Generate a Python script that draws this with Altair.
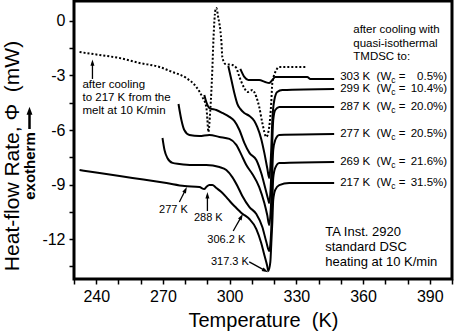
import altair as alt
import pandas as pd

# ---------------- data ----------------
# dotted curve: after cooling to 217 K from the melt at 10 K/min
T_dot = [232.5, 241.5, 250.5, 259.4, 268.4, 274.3, 280.5, 285.0, 287.7, 289.5,
         290.0, 290.4, 291.3, 292.2, 292.7, 293.6, 294.0, 294.9, 295.8, 296.3,
         296.7, 298.1, 301.2, 303.0, 304.4, 306.6, 308.0, 310.2, 312.0, 313.3,
         314.7, 316.5, 317.8, 318.7, 319.2, 321.0, 322.3, 334.5]
phi_dot = [-1.71, -1.87, -2.04, -2.31, -2.53, -2.81, -3.14, -3.63, -4.18, -4.73,
           -5.45, -6.11, -4.90, -2.70, -1.05, 0.61, 0.72, 0.17, -0.50, -1.16,
           -1.98, -2.37, -2.42, -2.59, -3.08, -3.69, -3.91, -3.80, -4.18, -4.73,
           -5.61, -6.38, -5.83, -4.51, -3.41, -2.70, -2.53, -2.53]

T_303 = [304.8, 306.6, 308.4, 313.3, 316.0, 317.8, 319.2, 320.5, 334.9, 336.3, 347.0]
phi_303 = [-2.64, -3.08, -3.25, -3.25, -3.36, -3.41, -3.25, -3.08, -3.08, -3.19, -3.19]

T_299 = [299.4, 300.8, 302.1, 303.5, 304.8, 306.6, 308.9, 311.1, 312.4, 314.2,
         315.6, 316.9, 317.8, 318.7, 319.2, 320.1, 321.4, 323.7, 347.0]
phi_299 = [-2.48, -3.25, -3.96, -4.57, -4.84, -5.06, -5.23, -5.50, -5.83, -6.49,
           -7.26, -8.09, -8.64, -7.10, -5.45, -4.35, -3.91, -3.80, -3.74]

T_287 = [288.6, 289.5, 290.9, 294.0, 296.7, 299.9, 302.1, 304.4, 306.6, 308.9,
         312.0, 314.2, 316.0, 317.4, 317.8, 318.7, 319.2, 319.6, 320.5, 322.3, 347.0]
phi_287 = [-4.07, -4.46, -4.79, -4.90, -5.06, -5.28, -5.50, -6.00, -6.71, -7.26,
           -7.65, -8.37, -9.19, -9.85, -10.02, -8.48, -6.55, -5.45, -4.90, -4.73, -4.73]

T_277 = [277.0, 278.3, 279.6, 281.9, 286.4, 290.9, 295.4, 299.9, 303.0, 305.3,
         307.5, 310.2, 313.3, 315.6, 316.9, 317.8, 318.7, 319.2, 319.6, 320.5, 322.3, 347.0]
phi_277 = [-4.57, -5.45, -6.00, -6.27, -6.33, -6.27, -6.38, -6.49, -6.82, -7.37,
           -7.93, -8.42, -9.14, -10.02, -10.68, -11.23, -9.85, -8.20, -7.10, -6.55, -6.27, -6.22]

T_269 = [269.8, 270.7, 272.0, 274.3, 277.4, 283.2, 289.5, 295.4, 298.5, 301.2,
         303.5, 305.7, 308.9, 312.0, 314.7, 316.5, 317.8, 318.7, 319.2, 319.6,
         320.5, 322.3, 347.0]
phi_269 = [-6.44, -7.10, -7.54, -7.81, -7.87, -7.93, -7.93, -8.04, -8.20, -8.59,
           -9.08, -9.63, -10.24, -10.62, -11.34, -12.16, -12.66, -11.50, -9.85, -8.64,
           -8.09, -7.82, -7.76]

T_217 = [232.5, 241.5, 256.3, 271.6, 279.7, 286.4, 288.6, 289.5, 290.9, 292.2,
         294.0, 296.3, 298.5, 300.8, 303.0, 304.4, 305.3, 306.6, 308.9, 312.0,
         314.2, 315.6, 316.9, 317.4, 318.3, 318.7, 319.2, 319.6, 320.5, 322.3,
         326.8, 347.0]
phi_217 = [-8.20, -8.37, -8.64, -8.92, -9.08, -9.14, -9.25, -9.14, -9.03, -9.03,
           -9.19, -9.41, -9.69, -10.02, -10.29, -10.46, -10.57, -10.68, -10.90, -11.45,
           -12.22, -12.88, -13.48, -13.76, -13.26, -12.33, -11.06, -9.85, -9.30, -9.03,
           -8.92, -8.92]

# right-hand labels of the quasi-isothermal curves
lab_temp = ["303 K", "299 K", "287 K", "277 K", "269 K", "217 K"]
lab_wc = ["0.5%)", "10.4%)", "20.0%)", "20.5%)", "21.6%)", "31.5%)"]
lab_phi = [-3.08, -3.77, -4.73, -6.22, -7.76, -8.92]
lab_T = 349.7

# annotation texts
note_lines = ["after cooling", "to 217 K from the", "melt at 10 K/min"]
note_phi = [-3.52, -4.24, -4.95]
note_T = 233.8

head_lines = ["after cooling with", "quasi-isothermal", "TMDSC to:"]
head_phi = [-0.50, -1.27, -1.98]
head_T = 355.6

ta_lines = ["TA Inst. 2920", "standard DSC", "heating at 10 K/min"]
ta_phi = [-11.61, -12.44, -13.26]
ta_T = 343.0

peak_text = ["277 K", "288 K", "306.2 K", "317.3 K"]
peak_T = [274.7, 290.4, 298.5, 300.1]
peak_phi = [-10.40, -10.84, -12.05, -13.26]

# arrows: start (T0, phi0) -> tip (T1, phi1), head angle (deg, clockwise from up)
arr_T0 = [238.3, 277.4, 290.0, 301.6, 308.8]
arr_p0 = [-3.19, -9.96, -10.46, -11.56, -13.26]
arr_T1 = [238.3, 280.1, 290.0, 305.2, 316.0]
arr_p1 = [-2.30, -9.30, -9.60, -10.78, -13.74]
arr_ang = [0, 25, 0, 28, 119]

# axis ticks
x_ticks = list(range(230, 401, 10))
y_ticks = [-13.5, -12, -10.5, -9, -7.5, -6, -4.5, -3, -1.5, 0]

# ---------------- build tables ----------------
solid = {"303": (T_303, phi_303), "299": (T_299, phi_299), "287": (T_287, phi_287),
         "277": (T_277, phi_277), "269": (T_269, phi_269), "217": (T_217, phi_217)}
rows = []
for name, (ts, ps) in solid.items():
    rows += [{"series": name, "T": t, "phi": p} for t, p in zip(ts, ps)]
df_solid = pd.DataFrame(rows)
df_dot = pd.DataFrame({"T": T_dot, "phi": phi_dot})

FONT = "Liberation Sans"
xs = alt.Scale(domain=[230, 400], nice=False, zero=False)
ys = alt.Scale(domain=[-14.2, 1.1], nice=False, zero=False)

xax = alt.Axis(values=x_ticks, tickCount=100,
               labelExpr="datum.value % 30 == 0 && datum.value < 400 && datum.value > 230 ? datum.label : ''",
               title="Temperature\u00a0 (K)", titleFontSize=20, titleFont=FONT,
               titleFontWeight="normal", titleColor="black", titlePadding=6,
               labelFont=FONT, labelFontSize=16, labelColor="black", labelPadding=4,
               tickColor="black", tickSize=5, tickWidth=1.5, domain=False, grid=False,
               labelOverlap=False)
yax = alt.Axis(values=y_ticks, tickCount=100,
               labelExpr="datum.value % 3 == 0 ? '' + datum.value : ''",
               title=None, labelFont=FONT, labelFontSize=16, labelColor="black",
               labelPadding=4, tickColor="black", tickSize=5, tickWidth=1.5,
               domain=False, grid=False, labelOverlap=False)

base_x = alt.X("T:Q", scale=xs, axis=xax)
base_y = alt.Y("phi:Q", scale=ys, axis=yax)

lines = alt.Chart(df_solid).mark_line(color="black", strokeWidth=2, interpolate="monotone").encode(
    x=base_x, y=base_y, detail="series:N")
dotted = alt.Chart(df_dot).mark_line(color="black", strokeWidth=2, strokeDash=[2, 2],
                                    interpolate="monotone").encode(x="T:Q", y="phi:Q")

# curve labels
df_lab = pd.DataFrame({"T": [lab_T] * 6, "phi": lab_phi, "a": [t + "\u00a0 (W" for t in lab_temp],
                       "c": ["c"] * 6, "eq": ["="] * 6, "v": lab_wc})
LS = 11.5
lab_a = alt.Chart(df_lab).mark_text(align="left", baseline="middle", font=FONT, fontSize=LS,
                                    color="black").encode(x="T:Q", y="phi:Q", text="a:N")
lab_c = alt.Chart(df_lab).mark_text(align="left", baseline="middle", font=FONT, fontSize=8.5,
                                    color="black", dx=51, dy=3).encode(x="T:Q", y="phi:Q", text="c:N")
lab_eq = alt.Chart(df_lab).mark_text(align="left", baseline="middle", font=FONT, fontSize=LS,
                                     color="black", dx=58.5).encode(x="T:Q", y="phi:Q", text="eq:N")
lab_v = alt.Chart(df_lab).mark_text(align="right", baseline="middle", font=FONT, fontSize=LS,
                                    color="black", dx=107).encode(x="T:Q", y="phi:Q", text="v:N")


def block(lines_, T, phis, size, align="left"):
    d = pd.DataFrame({"T": [T] * len(lines_) if not isinstance(T, list) else T,
                      "phi": phis, "txt": lines_})
    return alt.Chart(d).mark_text(align=align, baseline="middle", font=FONT, fontSize=size,
                                  color="black").encode(x="T:Q", y="phi:Q", text="txt:N")


note = block(note_lines, note_T, note_phi, 11.5)
head = block(head_lines, head_T, head_phi, 11.5)
ta = block(ta_lines, ta_T, ta_phi, 13)
peaks = block(peak_text, peak_T, peak_phi, 11, align="center")

df_arr = pd.DataFrame({"T0": arr_T0, "p0": arr_p0, "T1": arr_T1, "p1": arr_p1, "ang": arr_ang})
shafts = alt.Chart(df_arr).mark_rule(color="black", strokeWidth=1.3).encode(
    x="T0:Q", y="p0:Q", x2="T1:Q", y2="p1:Q")
heads = alt.Chart(df_arr).mark_point(shape="M0,-1L0.6,0.9L-0.6,0.9Z", filled=True, color="black",
                                     opacity=1, size=45).encode(
    x="T1:Q", y="p1:Q", angle=alt.Angle("ang:Q", scale=None))

ytitle = alt.Chart(pd.DataFrame({"t": ["Heat-flow Rate, \u03a6\u00a0 (mW)"]})).mark_text(
    angle=270, align="center", baseline="middle", font=FONT, fontSize=21, color="black").encode(
    x=alt.value(-61), y=alt.value(155), text="t:N")
exo = alt.Chart(pd.DataFrame({"t": ["exotherm"]})).mark_text(
    angle=270, align="center", baseline="middle", font=FONT, fontSize=15, fontWeight="bold",
    color="black").encode(x=alt.value(-44), y=alt.value(165), text="t:N")
exo_shaft = alt.Chart(pd.DataFrame({"k": [0]})).mark_rule(color="black", strokeWidth=2.5).encode(
    x=alt.value(-44.5), y=alt.value(128), y2=alt.value(111))
exo_head = alt.Chart(pd.DataFrame({"k": [0]})).mark_point(
    shape="M0,-1L0.7,0.9L-0.7,0.9Z", filled=True, color="black", opacity=1, size=70).encode(
    x=alt.value(-44.5), y=alt.value(110))

chart = alt.layer(lines, dotted, lab_a, lab_c, lab_eq, lab_v, note, head, ta, peaks,
                  shafts, heads, ytitle, exo, exo_shaft, exo_head).properties(
    width=378, height=278,
    autosize=alt.AutoSizeParams(type="none"),
    padding={"left": 74, "top": 1, "right": 4, "bottom": 56},
    background="white",
).configure_view(stroke="black", strokeWidth=3).configure_axis(labelOverlap=False)

chart.save("out.html", embed_options={"renderer": "svg", "actions": False})
